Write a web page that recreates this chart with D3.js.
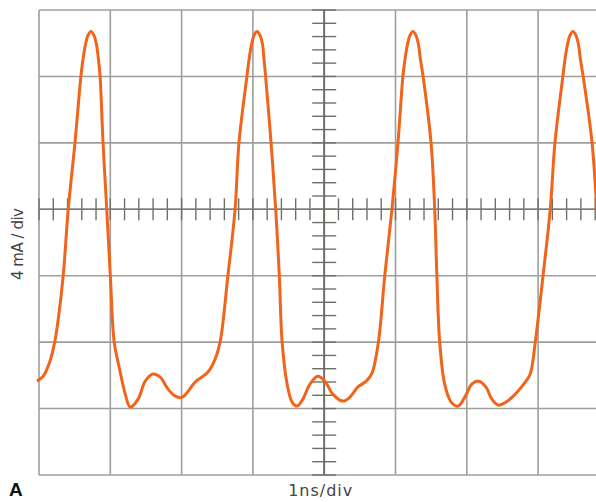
<!DOCTYPE html>
<html>
<head>
<meta charset="utf-8">
<script src="https://cdn.jsdelivr.net/npm/d3@7"></script>
<style>
  body { margin: 0; background: #fff; }
  svg { display: block; }
</style>
</head>
<body>
<div id="scope"></div>
<script>
// trace: time in ns (1 ns/div), current in mA (4 mA/div)
// one line per stretch of the waveform, same layout in both arrays
var timeNs = [
  -0.03, 0.06, 0.15, 0.22, 0.27, 0.34, 0.41, 0.505,
  0.589, 0.617, 0.652, 0.687, 0.729, 0.771, 0.806, 0.834, 0.856,
  0.898, 0.95, 1.00, 1.055, 1.13, 1.21, 1.28, 1.39, 1.49, 1.60, 1.70, 1.81, 1.91, 2.01, 2.19, 2.37, 2.47, 2.54, 2.65, 2.75, 2.805,
  2.918, 2.946, 2.981, 3.016, 3.058, 3.100, 3.135, 3.156, 3.177,
  3.254, 3.32, 3.37, 3.41, 3.48, 3.55, 3.62, 3.70, 3.80, 3.91, 4.01, 4.12, 4.26, 4.36, 4.47, 4.59, 4.67, 4.76, 4.85, 4.95, 5.035,
  5.105, 5.133, 5.168, 5.203, 5.245, 5.287, 5.322, 5.350, 5.385,
  5.498, 5.55, 5.58, 5.62, 5.69, 5.78, 5.88, 5.98, 6.07, 6.17, 6.27, 6.35, 6.44, 6.55, 6.68, 6.82, 6.89, 6.96, 7.07, 7.17, 7.237,
  7.349, 7.377, 7.412, 7.447, 7.489, 7.531, 7.566, 7.594, 7.630,
  7.756, 7.826]
var currentMA = [
  -10.35, -10.05, -9.20, -8.00, -6.62, -3.97, 0, 4.03,
  8.06, 9.02, 9.92, 10.47, 10.71, 10.47, 9.92, 9.02, 8.06,
  4.03, 0, -3.97, -8.00, -9.62, -11.13, -11.91, -11.43, -10.35, -9.92, -10.11, -10.83, -11.25, -11.31, -10.41, -9.80, -9.02, -8.00, -3.97, 0, 4.03,
  8.06, 9.02, 9.92, 10.47, 10.71, 10.47, 9.92, 9.02, 8.06,
  4.03, 0, -3.97, -8.00, -10.53, -11.61, -11.85, -11.43, -10.53, -10.05, -10.35, -11.13, -11.55, -11.31, -10.71, -10.35, -9.86, -8.00, -3.97, 0, 4.03,
  8.06, 9.02, 9.92, 10.47, 10.71, 10.47, 9.92, 9.02, 8.06,
  4.03, 0, -3.97, -8.00, -10.53, -11.61, -11.85, -11.25, -10.53, -10.35, -10.71, -11.43, -11.79, -11.61, -11.13, -10.41, -9.92, -8.00, -3.97, 0, 4.03,
  8.06, 9.02, 9.92, 10.47, 10.71, 10.47, 9.92, 9.02, 8.06,
  4.03, -0.30]

// graticule: divisions shown on screen
var timeDivs = d3.range(0, 9)        // 1 ns per division
var currentDivs = d3.range(-16, 13, 4) // 4 mA per division
var minorPerDiv = 5

var w = 596, h = 502

var svg = d3.select("#scope")
  .append("svg")
  .attr("width", w)
  .attr("height", h)

var x = d3.scaleLinear().domain([0, 8]).range([39, 609.4])
var y = d3.scaleLinear().domain([-16, 12]).range([475, 10])

var grid = svg.append("g")
  .attr("stroke", "#8e8e8a")
  .attr("stroke-width", 1.6)
  .attr("opacity", 0.85)

// vertical lines
grid.selectAll("line.v")
  .data(timeDivs)
  .join("line")
  .attr("class", "v")
  .attr("x1", function(d) { return x(d) })
  .attr("x2", function(d) { return x(d) })
  .attr("y1", y(12))
  .attr("y2", y(-16))

// horizontal lines
grid.selectAll("line.h")
  .data(currentDivs)
  .join("line")
  .attr("class", "h")
  .attr("x1", x(0))
  .attr("x2", w)
  .attr("y1", function(d) { return y(d) })
  .attr("y2", function(d) { return y(d) })

// minor ticks on the centre axes
var xMinor = d3.range(0, 8 * minorPerDiv + 1).map(function(i) { return i / minorPerDiv })
var yMinor = d3.range(-16 * minorPerDiv / 4, 12 * minorPerDiv / 4 + 1).map(function(i) { return i * 4 / minorPerDiv })

var ticks = svg.append("g")
  .attr("stroke", "#6f6f6a")
  .attr("stroke-width", 1.4)

ticks.selectAll("line.tx")
  .data(xMinor)
  .join("line")
  .attr("class", "tx")
  .attr("x1", function(d) { return x(d) })
  .attr("x2", function(d) { return x(d) })
  .attr("y1", y(0) - 11)
  .attr("y2", y(0) + 11)

ticks.selectAll("line.ty")
  .data(yMinor)
  .join("line")
  .attr("class", "ty")
  .attr("x1", x(4) - 12)
  .attr("x2", x(4) + 12)
  .attr("y1", function(d) { return y(d) })
  .attr("y2", function(d) { return y(d) })

// centre axis lines a bit darker
svg.append("line")
  .attr("x1", x(0)).attr("x2", w)
  .attr("y1", y(0)).attr("y2", y(0))
  .attr("stroke", "#7a7a75").attr("stroke-width", 1.6)
svg.append("line")
  .attr("x1", x(4)).attr("x2", x(4))
  .attr("y1", y(12)).attr("y2", y(-16))
  .attr("stroke", "#6a6a66").attr("stroke-width", 1.8)

// the trace
var trace = d3.zip(timeNs, currentMA)

var line = d3.line()
  .x(function(d) { return x(d[0]) })
  .y(function(d) { return y(d[1]) })
  .curve(d3.curveCatmullRom.alpha(0.5))

svg.append("path")
  .attr("d", line(trace))
  .attr("fill", "none")
  .attr("stroke", "#f0641c")
  .attr("stroke-width", 3)
  .attr("stroke-linejoin", "round")

// labels
svg.append("text")
  .attr("transform", "translate(23,244) rotate(-90)")
  .attr("text-anchor", "middle")
  .attr("font-family", "DejaVu Sans, sans-serif")
  .attr("font-size", 15)
  .attr("textLength", 72)
  .attr("lengthAdjust", "spacing")
  .attr("fill", "#444")
  .text("4 mA / div")

svg.append("text")
  .attr("x", x(4) - 4)
  .attr("y", 496)
  .attr("text-anchor", "middle")
  .attr("font-family", "DejaVu Sans, sans-serif")
  .attr("font-size", 16)
  .attr("textLength", 64)
  .attr("lengthAdjust", "spacing")
  .attr("fill", "#444")
  .text("1ns/div")

svg.append("text")
  .attr("x", 9)
  .attr("y", 496)
  .attr("font-family", "Liberation Sans, Arial, sans-serif")
  .attr("font-weight", "bold")
  .attr("font-size", 19)
  .attr("fill", "#111")
  .text("A")
</script>
</body>
</html>
